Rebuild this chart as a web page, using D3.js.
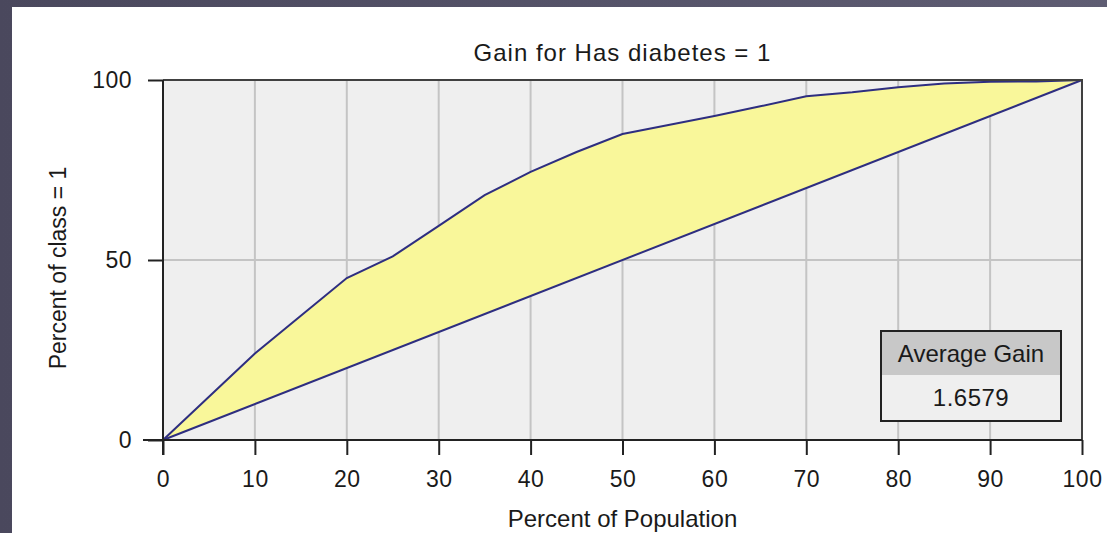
<!DOCTYPE html>
<html>
<head>
<meta charset="utf-8">
<script src="https://cdn.jsdelivr.net/npm/d3@7"></script>
<style>
  body { margin: 0; background: #fff; }
  svg text { font-family: "Liberation Sans", Arial, sans-serif; fill: #1a1a1a; }
</style>
</head>
<body>
<script>
const width = 1107
const height = 533

// percent of population (x) and cumulative percent of class = 1 (y)
const population = [0, 5, 10, 15, 20, 25, 30, 35, 40, 45, 50, 55, 60, 65, 70, 75, 80, 85, 90, 95, 100]
const gain = [0, 12, 24, 34.5, 45, 51, 59.5, 68, 74.5, 80, 85, 87.5, 90, 92.7, 95.5, 96.6, 98, 99, 99.5, 99.6, 100]
const baseline = [0, 100]
const xTicks = [0, 10, 20, 30, 40, 50, 60, 70, 80, 90, 100]
const yTicks = [0, 50, 100]
const title = 'Gain for Has diabetes = 1'
const avgGainLabel = 'Average Gain'
const avgGainValue = '1.6579'

const margin = { left: 163, right: 25, top: 80, bottom: 93 }

const svg = d3.select('body')
  .append('svg')
  .attr('width', width)
  .attr('height', height)

// window frame
const frame = svg.append('defs').append('linearGradient')
  .attr('id', 'frame')
  .attr('x1', 0).attr('x2', 1)
frame.append('stop').attr('offset', 0).attr('stop-color', '#4a485d')
frame.append('stop').attr('offset', 1).attr('stop-color', '#5f5d73')
svg.append('rect').attr('width', width).attr('height', height).attr('fill', 'url(#frame)')
svg.append('rect').attr('x', 12).attr('y', 7).attr('width', width - 12).attr('height', height - 7).attr('fill', '#fff')

const x = d3.scaleLinear().domain([0, 100]).range([margin.left, width - margin.right])
const y = d3.scaleLinear().domain([0, 100]).range([height - margin.bottom, margin.top])

const plot = svg.append('g')

plot.append('rect')
  .attr('x', x(0)).attr('y', y(100))
  .attr('width', x(100) - x(0)).attr('height', y(0) - y(100))
  .attr('fill', '#efefef')

// gridlines
plot.append('g')
  .selectAll('line')
  .data(xTicks.slice(1, -1))
  .enter()
  .append('line')
  .attr('x1', (d) => x(d)).attr('x2', (d) => x(d))
  .attr('y1', y(0)).attr('y2', y(100))
  .attr('stroke', '#c4c4c4').attr('stroke-width', 2)

plot.append('g')
  .selectAll('line')
  .data(yTicks.slice(1, -1))
  .enter()
  .append('line')
  .attr('x1', x(0)).attr('x2', x(100))
  .attr('y1', (d) => y(d)).attr('y2', (d) => y(d))
  .attr('stroke', '#c4c4c4').attr('stroke-width', 2)

// area between gain curve and the diagonal
const points = population.map((p, i) => ({ p: p, g: gain[i] }))
const diag = d3.interpolateNumber(baseline[0], baseline[1])
const area = d3.area()
  .x((d) => x(d.p))
  .y0((d) => y(diag(d.p / 100)))
  .y1((d) => y(d.g))

plot.append('path')
  .datum(points)
  .attr('d', area)
  .attr('fill', '#f9f79a')

const line = d3.line().x((d) => x(d.p)).y((d) => y(d.g))
plot.append('path')
  .datum(points)
  .attr('d', line)
  .attr('fill', 'none')
  .attr('stroke', '#2e2e80')
  .attr('stroke-width', 2)

plot.append('line')
  .attr('x1', x(0)).attr('y1', y(baseline[0]))
  .attr('x2', x(100)).attr('y2', y(baseline[1]))
  .attr('stroke', '#2e2e80')
  .attr('stroke-width', 2)

// plot border (top and right)
plot.append('path')
  .attr('d', `M${x(0)},${y(100)}H${x(100)}V${y(0)}`)
  .attr('fill', 'none')
  .attr('stroke', '#404040')
  .attr('stroke-width', 2)

// axes
const xAxis = svg.append('g').attr('transform', `translate(0, ${y(0)})`)
xAxis.call(d3.axisBottom(x).tickValues(d3.range(0, 101, 2)).tickSize(10).tickFormat(''))
xAxis.call(d3.axisBottom(x).tickValues(xTicks).tickSize(15).tickPadding(16).tickFormat(d3.format('d')))
xAxis.selectAll('.domain').attr('d', `M${x(0) - 20},0H${x(100)}`)

const yAxis = svg.append('g').attr('transform', `translate(${x(0)}, 0)`)
yAxis.call(d3.axisLeft(y).tickValues(d3.range(0, 101, 10)).tickSize(9).tickFormat(''))
yAxis.call(d3.axisLeft(y).tickValues(yTicks).tickSize(15).tickPadding(16).tickFormat(d3.format('d')))
yAxis.selectAll('.domain').attr('d', `M0,${y(100)}V${y(0) + 15}`)

svg.selectAll('.domain, .tick line')
  .attr('stroke', '#222')
  .attr('stroke-width', 2)
svg.selectAll('.tick text')
  .style('font-size', '23px')
  .style('letter-spacing', '0.5px')
  .attr('fill', '#1a1a1a')

// titles
svg.append('text')
  .attr('x', x(50)).attr('y', 61)
  .attr('text-anchor', 'middle')
  .style('font-size', '24px')
  .style('letter-spacing', '1px')
  .text(title)

svg.append('text')
  .attr('x', x(50)).attr('y', 527)
  .attr('text-anchor', 'middle')
  .style('font-size', '24px')
  .text('Percent of Population')

svg.append('text')
  .attr('transform', `translate(66, ${y(50) + 8}) rotate(-90)`)
  .attr('text-anchor', 'middle')
  .style('font-size', '23px')
  .text('Percent of class = 1')

// average gain box
const box = svg.append('g').attr('transform', 'translate(881, 331)')
box.append('rect').attr('width', 180).attr('height', 90).attr('fill', '#efefef')
box.append('rect').attr('width', 180).attr('height', 44).attr('fill', '#c8c8c8')
box.append('rect').attr('width', 180).attr('height', 90)
  .attr('fill', 'none').attr('stroke', '#222').attr('stroke-width', 2)
box.append('text').attr('x', 90).attr('y', 31).attr('text-anchor', 'middle')
  .style('font-size', '24px').text(avgGainLabel)
box.append('text').attr('x', 90).attr('y', 75).attr('text-anchor', 'middle')
  .style('font-size', '24px').style('letter-spacing', '0.5px').text(avgGainValue)
</script>
</body>
</html>
